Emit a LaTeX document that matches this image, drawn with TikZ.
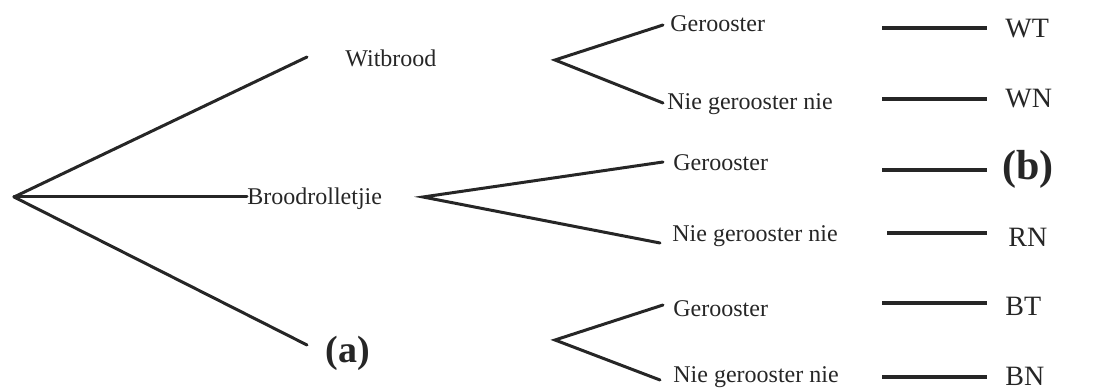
\documentclass[tikz,border=0pt]{standalone}
\usepackage{fontspec}
\setmainfont{Liberation Serif}
\definecolor{ink}{HTML}{262626}
\begin{document}
\begin{tikzpicture}[x=0.5pt,y=-0.5pt,
  branch/.style={draw=ink,line width=1.5pt,line cap=round},
  tick/.style={draw=ink,line width=2.2pt},
  lbl/.style={anchor=base west,inner sep=0pt,text=ink,font=\fontsize{12}{14}\selectfont},
  code/.style={anchor=base west,inner sep=0pt,text=ink,font=\fontsize{14}{16}\selectfont},
  tag/.style={anchor=base west,inner sep=0pt,text=ink,font=\bfseries\fontsize{19}{22}\selectfont}]
\useasboundingbox (0,0) rectangle (1106,389);
% first level
\coordinate (root) at (14,197);
\coordinate (wend) at (307,57);
\coordinate (bend) at (307,345);
\node[lbl] (wit) at (345,67) {Witbrood};
\node[lbl] (rol) at (247,205) {Broodrolletjie};
\node[tag] (a) at (325,362) {(a)};
\draw[branch] (root) -- (wend);
\draw[branch] (root) -- (rol.west |- root);
\draw[branch] (root) -- (bend);
% second level vertices
\coordinate (wv) at (555,60);
\coordinate (rv) at (423,197);
\coordinate (bv) at (555,340);
\coordinate (w1) at (663,25);
\coordinate (w2) at (663,103);
\coordinate (r1) at (663,162);
\coordinate (r2) at (660,243);
\coordinate (b1) at (663,305);
\coordinate (b2) at (660,380);
\draw[branch] (w1) -- (wv) -- (w2);
\draw[branch] (r1) -- (rv) -- (r2);
\draw[branch] (b1) -- (bv) -- (b2);
% second level labels
\node[lbl] (wg) at (670,32) {Gerooster};
\node[lbl] (wn) at (667,110) {Nie gerooster nie};
\node[lbl] (rg) at (673,171) {Gerooster};
\node[lbl] (rn) at (672,242) {Nie gerooster nie};
\node[lbl] (bg) at (673,316) {Gerooster};
\node[lbl] (bn) at (673,382) {Nie gerooster nie};
% right short lines and codes
\node[code] (cWT) at (1005,38) {WT};
\node[code] (cWN) at (1005,108) {WN};
\node[tag,font=\bfseries\fontsize{21}{24}\selectfont] (b) at (1002,180) {(b)};
\node[code] (cRN) at (1008,247) {RN};
\node[code] (cBT) at (1005,315) {BT};
\node[code] (cBN) at (1005,385) {BN};
\coordinate (t1a) at (882,28);  \coordinate (t1b) at (987,28);
\coordinate (t2a) at (882,99);  \coordinate (t2b) at (987,99);
\coordinate (t3a) at (882,170); \coordinate (t3b) at (987,170);
\coordinate (t4a) at (887,233); \coordinate (t4b) at (987,233);
\coordinate (t5a) at (882,303); \coordinate (t5b) at (987,303);
\coordinate (t6a) at (882,377); \coordinate (t6b) at (987,377);
\draw[tick] (t1a) -- (t1b);
\draw[tick] (t2a) -- (t2b);
\draw[tick] (t3a) -- (t3b);
\draw[tick] (t4a) -- (t4b);
\draw[tick] (t5a) -- (t5b);
\draw[tick] (t6a) -- (t6b);
\end{tikzpicture}
\end{document}
